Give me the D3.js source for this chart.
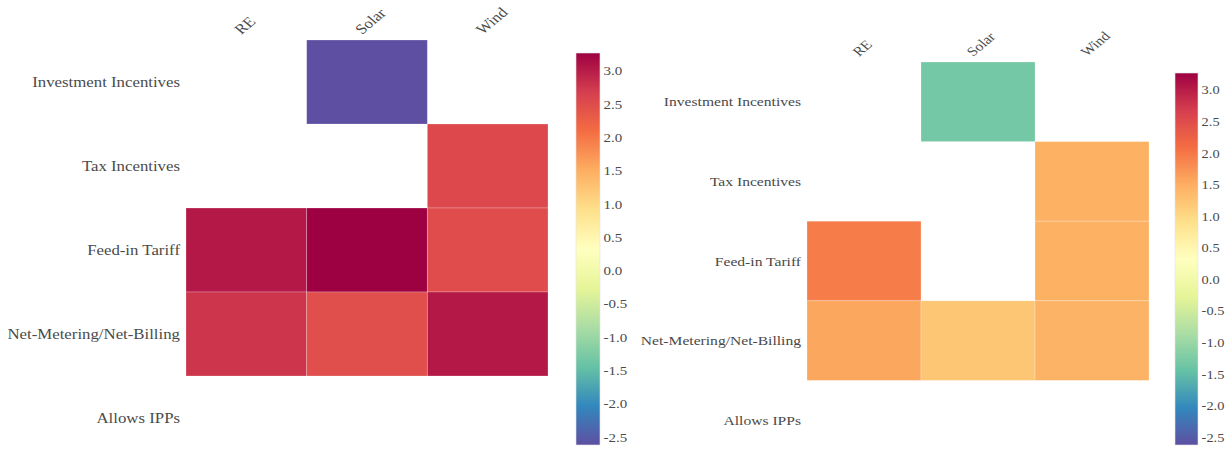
<!DOCTYPE html>
<html>
<head>
<meta charset="utf-8">
<script src="https://cdn.jsdelivr.net/npm/d3@7"></script>
<style>
  body { margin: 0; background: #fff; }
  svg { display: block; }
  text { font-family: "Liberation Serif", "Times New Roman", serif; fill: #4a4a4a; }
</style>
</head>
<body>
<svg id="chart"></svg>
<script>
// columns / rows of both heatmaps
const columns = ['RE', 'Solar', 'Wind'];
const rows = ['Investment Incentives', 'Tax Incentives', 'Feed-in Tariff', 'Net-Metering/Net-Billing', 'Allows IPPs'];

// left panel values (null = empty cell), one array per row
const leftValues = [
  [null, -2.62, null],
  [null, null, 2.55],
  [3.05, 3.27, 2.5],
  [2.77, 2.47, 3.05],
  [null, null, null],
];

// right panel values
const rightValues = [
  [null, -1.32, null],
  [null, null, 1.47],
  [1.96, null, 1.47],
  [1.57, 1.22, 1.44],
  [null, null, null],
];

const colorbarTicks = [3.0, 2.5, 2.0, 1.5, 1.0, 0.5, 0.0, -0.5, -1.0, -1.5, -2.0, -2.5];
const zmin = -2.62;
const zmax = 3.27;

// plotly "Spectral" stops, high value -> dark red
const spectral = ['#5e4fa2', '#3288bd', '#66c2a5', '#abdda4', '#e6f598', '#ffffbf',
  '#fee08b', '#fdae61', '#f46d43', '#d53e4f', '#9e0142'];

const color = d3.scaleLinear()
  .domain(spectral.map((c, i) => zmin + (zmax - zmin) * i / (spectral.length - 1)))
  .range(spectral)
  .interpolate(d3.interpolateRgb);

// the reference text looks stretched sideways a bit
const stretch = 1.2;

const svg = d3.select('#chart').attr('width', 1229).attr('height', 450);
const defs = svg.append('defs');

const grad = defs.append('linearGradient')
  .attr('id', 'cbGrad')
  .attr('x1', 0).attr('y1', 1).attr('x2', 0).attr('y2', 0);
grad.selectAll('stop')
  .data(spectral)
  .enter()
  .append('stop')
  .attr('offset', (d, i) => i / (spectral.length - 1))
  .attr('stop-color', d => d);

const drawPanel = (values, box, cb, fs) => {
  const g = svg.append('g');

  const x = d3.scaleBand().domain(columns).range([box.left, box.right]);
  const y = d3.scaleBand().domain(rows).range([box.top, box.bottom]);

  const cells = [];
  values.forEach((row, i) => {
    row.forEach((v, j) => {
      if (v !== null) cells.push({ row: rows[i], col: columns[j], v });
    });
  });

  g.selectAll('rect.cell')
    .data(cells)
    .enter()
    .append('rect')
    .attr('class', 'cell')
    .attr('x', d => x(d.col))
    .attr('y', d => y(d.row))
    .attr('width', x.bandwidth())
    .attr('height', y.bandwidth())
    .attr('fill', d => color(d.v))
    .attr('stroke', 'rgba(255,255,255,0.3)')
    .attr('stroke-width', 0.8);

  // row labels
  g.selectAll('text.row')
    .data(rows)
    .enter()
    .append('text')
    .attr('class', 'row')
    .attr('transform', d => `translate(${box.left - 6},${y(d) + y.bandwidth() / 2}) scale(${stretch},1)`)
    .attr('dy', '0.35em')
    .attr('text-anchor', 'end')
    .style('font-size', fs.row + 'px')
    .text(d => d);

  // rotated column labels on top
  g.selectAll('text.col')
    .data(columns)
    .enter()
    .append('text')
    .attr('class', 'col')
    .attr('transform', d => `translate(${x(d) + x.bandwidth() / 2 - 5},${box.top - 5}) scale(${stretch},1) rotate(-45)`)
    .attr('text-anchor', 'start')
    .style('font-size', fs.col + 'px')
    .text(d => d);

  // colorbar
  const cy = d3.scaleLinear().domain([zmin, zmax]).range([cb.bottom, cb.top]);
  g.append('rect')
    .attr('x', cb.left)
    .attr('y', cb.top)
    .attr('width', cb.width)
    .attr('height', cb.bottom - cb.top)
    .attr('fill', 'url(#cbGrad)')
    .attr('stroke', '#e4e4e4')
    .attr('stroke-width', 0.6);

  const axis = g.append('g')
    .attr('transform', `translate(${cb.left + cb.width},0)`)
    .call(d3.axisRight(cy).tickValues(colorbarTicks).tickSize(0).tickPadding(3)
      .tickFormat(v => v.toFixed(1)));
  axis.select('.domain').remove();
  axis.selectAll('text')
    .attr('transform', `scale(${stretch},1)`)
    .style('font-family', '"Liberation Serif", serif')
    .style('font-size', fs.tick + 'px')
    .attr('fill', '#4a4a4a');
};

drawPanel(leftValues,
  { left: 186, right: 548, top: 40, bottom: 460 },
  { left: 576, width: 24, top: 53, bottom: 445 },
  { row: 14, col: 14, tick: 12.5 });

drawPanel(rightValues,
  { left: 807, right: 1149, top: 62, bottom: 460 },
  { left: 1175, width: 23, top: 73, bottom: 445 },
  { row: 13, col: 13, tick: 12 });
</script>
</body>
</html>
